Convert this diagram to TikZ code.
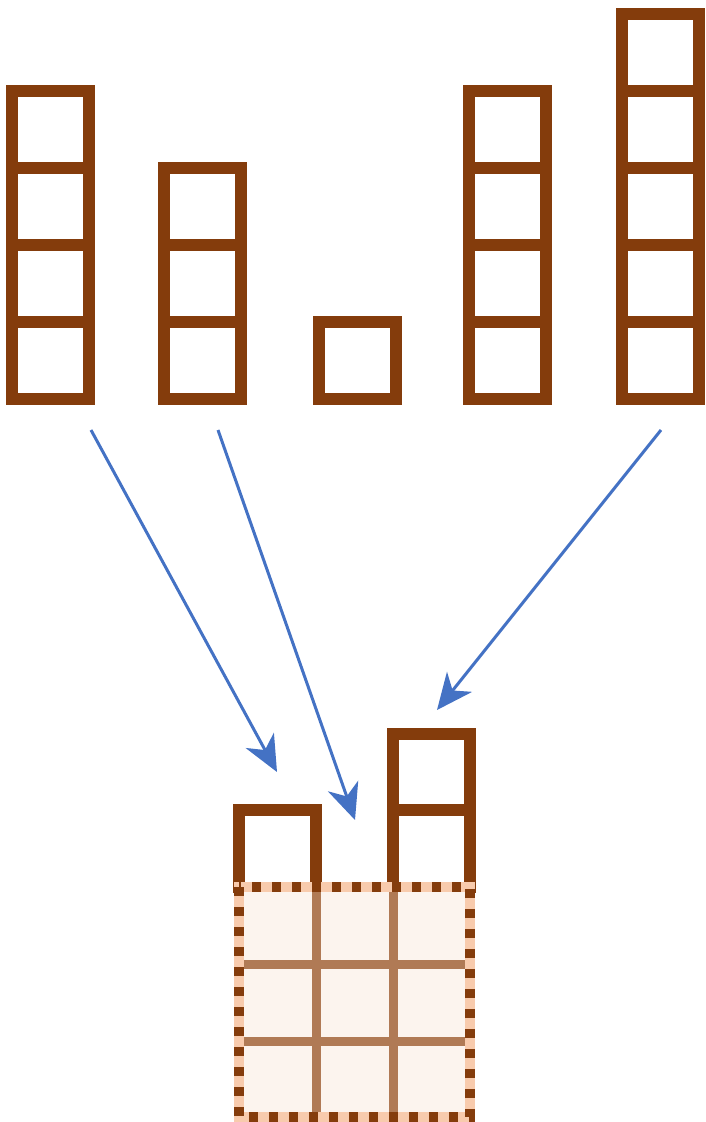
\documentclass[tikz,border=0pt]{standalone}
\usetikzlibrary{arrows.meta}
\definecolor{brn}{HTML}{843C0C}
\definecolor{blu}{HTML}{4472C4}
\definecolor{peach}{HTML}{F8CBAD}
\definecolor{tan}{HTML}{B07A55}
\definecolor{pale}{HTML}{FCF4EE}
\tikzset{
  stack/.style={draw=brn, line width=12pt},
  gridline/.style={draw=tan, line width=9pt},
  flow/.style={draw=blu, line width=3pt, -{Stealth[length=36pt,width=32pt,inset=11pt]}},
}
\begin{document}
\begin{tikzpicture}[x=1pt,y=-1pt]
\useasboundingbox (0,0) rectangle (705,1122);
% top stacks: left x, count
\foreach \L/\n in {12/4,164/3,319/1,469/4,622/5}{
  \draw[stack] (\L,399) rectangle ({\L+77},{399-77*\n});
  \ifnum\n>1
    \foreach \k in {2,...,\n}{
      \draw[stack] (\L,{399-77*(\k-1)}) -- ({\L+77},{399-77*(\k-1)});
    }
  \fi
}
% bottom small stacks
\draw[stack] (239,893) -- (239,810) -- (316,810) -- (316,893);
\draw[stack] (393,893) -- (393,734) -- (470,734) -- (470,893);
\draw[stack] (393,810) -- (470,810);
% grid
\fill[pale] (239,887) rectangle (470,1117);
\foreach \v in {316,393}{ \draw[gridline] (\v,887) -- (\v,1117); }
\foreach \h in {964,1041}{ \draw[gridline] (239,\h) -- (470,\h); }
\draw[draw=peach, line width=10pt] (239,887) rectangle (470,1117);
\draw[draw=brn, line width=10pt, dash pattern=on 9pt off 11pt] (239,887) rectangle (470,1117);
% arrows
\coordinate (s1) at (91,430);
\coordinate (e1) at (277,772);
\coordinate (s2) at (218,430);
\coordinate (e2) at (355,820);
\coordinate (s3) at (661,430);
\coordinate (e3) at (437,710);
\draw[flow] (s1) -- (e1);
\draw[flow] (s2) -- (e2);
\draw[flow] (s3) -- (e3);
\end{tikzpicture}
\end{document}
